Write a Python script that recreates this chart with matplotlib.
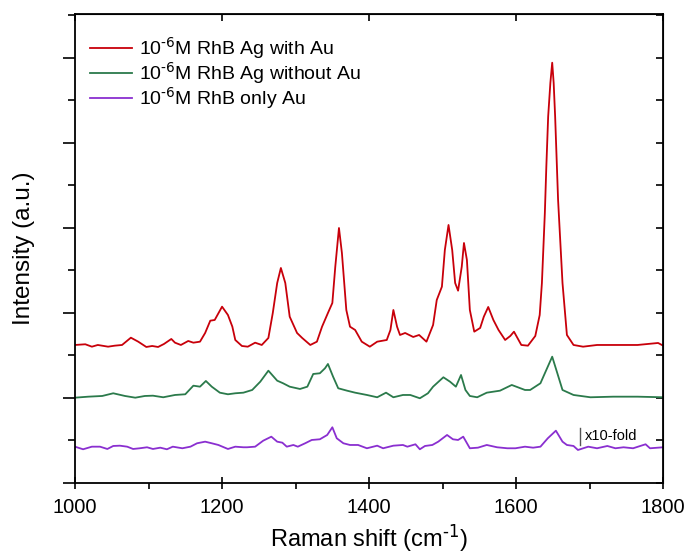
import matplotlib
matplotlib.use('Agg')
import matplotlib.pyplot as plt
from matplotlib.ticker import MultipleLocator

plt.rcParams['font.family'] = ['Liberation Sans', 'DejaVu Sans']
plt.rcParams['mathtext.default'] = 'regular'
plt.rcParams['axes.unicode_minus'] = False

# Raman shift (cm-1) / intensity (a.u., offset stacked)
red_x = [1000, 1014, 1023, 1031, 1045, 1054, 1064, 1076, 1086, 1097, 1105, 1113, 1121, 1131,
         1136, 1144, 1154, 1161, 1170, 1177, 1184, 1190, 1200, 1208, 1214, 1218, 1227,
         1235, 1245, 1254, 1263, 1269, 1275, 1280, 1286, 1292, 1302, 1309, 1320, 1329, 1336,
         1344, 1350, 1354, 1359, 1363, 1369, 1374, 1381, 1390, 1401, 1411, 1424, 1429, 1433,
         1438, 1442, 1449, 1460, 1468, 1478, 1487, 1492, 1499, 1503, 1508, 1513, 1517, 1521,
         1526, 1529, 1533, 1537, 1543, 1551, 1556, 1562, 1569, 1576, 1585, 1592, 1597, 1607,
         1616, 1626, 1632, 1635, 1639, 1641, 1643.5, 1646.5, 1649, 1651, 1653, 1657, 1663,
         1669, 1678, 1691, 1710, 1737, 1765, 1793, 1800]
red_y = [138, 138.7, 136.3, 138, 136.3, 137.3, 138, 145.3, 141.3, 136, 137, 136, 139, 144,
         140.3, 138, 142, 140.3, 141.3, 150, 162.3, 163, 176.3, 168, 156.3, 143, 137,
         136.3, 140.3, 138, 145, 170, 200, 215, 200, 166.3, 150, 145, 138, 141.3, 156.3,
         170, 180, 216.3, 255, 230, 173, 156.3, 153, 141.3, 136.3, 141.3, 143, 153, 173,
         156.3, 148, 150, 146, 148, 141.3, 158, 183, 196.3, 233, 258, 233, 200, 192.3,
         216.3, 240, 223, 173, 151.3, 155, 166.3, 176, 163, 153, 143, 147, 151.3, 138,
         137.3, 147, 168, 200, 270, 316, 366.3, 400, 420.3, 400, 366.3, 283, 200,
         148, 138, 136.3, 138, 138, 138, 140, 137.3]

green_x = [1000, 1018, 1037, 1052, 1068, 1082, 1095, 1106, 1120, 1136, 1150, 1161, 1170, 1178,
           1186, 1197, 1208, 1218, 1229, 1241, 1252, 1263, 1275, 1283, 1292, 1306, 1316, 1324,
           1333, 1340, 1344, 1351, 1358, 1370, 1381, 1397, 1411, 1423, 1433, 1446, 1456, 1469,
           1480, 1487, 1501, 1510, 1518, 1525, 1531, 1537, 1547, 1560, 1578, 1594, 1612, 1619,
           1633, 1639, 1649, 1656, 1663, 1678, 1701, 1732, 1765, 1800]
green_y = [85.3, 86.3, 87, 89.7, 87, 85.3, 87, 87.3, 85.7, 88, 88.7, 97.3, 96.3, 102,
           96.3, 90.3, 88.7, 89.7, 90.3, 93, 101.3, 112.3, 102.3, 99.7, 96.3, 94, 96.3, 109,
           109.7, 114.7, 119, 106.3, 94.7, 92.3, 90.3, 88, 85.7, 90.3, 85.7, 88, 88, 84.7,
           89.7, 96.3, 105.7, 101.3, 96.3, 108, 93, 87, 85.7, 90.3, 92.3, 98, 93, 93,
           99.7, 109.7, 126.3, 109.7, 93, 88, 85.7, 86.3, 86.3, 85.7]

purple_x = [1000, 1011, 1023, 1034, 1044, 1052, 1061, 1071, 1079, 1088, 1098, 1106, 1116, 1125,
            1133, 1146, 1157, 1166, 1177, 1186, 1195, 1208, 1218, 1229, 1234, 1245, 1256, 1267,
            1275, 1282, 1288, 1297, 1303, 1313, 1322, 1333, 1343, 1350, 1356, 1365, 1374, 1385,
            1397, 1411, 1419, 1433, 1446, 1452, 1463, 1469, 1476, 1486, 1494, 1506, 1514, 1521,
            1528, 1537, 1548, 1560, 1574, 1588, 1599, 1612, 1623, 1633, 1643, 1654, 1663, 1669,
            1678, 1684, 1698, 1710, 1724, 1735, 1746, 1759, 1776, 1782, 1800]
purple_y = [36.3, 33.7, 36.3, 36.3, 34, 37, 37.3, 36.3, 34, 34.7, 35.7, 34, 35.3, 33.7,
            36.3, 34.7, 36.3, 39.7, 41.3, 39.7, 38, 34, 36.3, 35.7, 35.7, 36.3, 42.3, 46.3,
            41.3, 40.3, 36.3, 38, 36.3, 39.7, 43, 43.7, 48, 55.7, 44.7, 39.7, 38, 38,
            34.7, 37.3, 34.7, 37.3, 38, 36.3, 38.7, 33.7, 37, 38, 41.3, 48, 43.7, 43,
            46.3, 34.7, 35.3, 38, 35.7, 34.7, 34.7, 36.3, 35.3, 36.3, 44.7, 52.3, 41.3, 38,
            37, 33, 36.3, 34.7, 37, 34.7, 35.7, 34.7, 38.7, 34.7, 35.7]

labels = [r'10$^{\text{-6}}$M RhB Ag with Au',
          r'10$^{\text{-6}}$M RhB Ag without Au',
          r'10$^{\text{-6}}$M RhB only Au']

fig = plt.figure(figsize=(6.88, 5.59), dpi=100)
ax = fig.add_axes([0.109, 0.136, 0.855, 0.839])

ax.plot(red_x, red_y, color='#c8000a', lw=1.3, label=labels[0])
ax.plot(green_x, green_y, color='#2b7a4b', lw=1.3, label=labels[1])
ax.plot(purple_x, purple_y, color='#8a2fd0', lw=1.3, label=labels[2])

# x10-fold marker
ax.plot([1687, 1687], [38, 55], color='#555555', lw=1)
ax.text(1693, 46.5, 'x10-fold', fontsize=10.5, va='center', ha='left')

ax.set_xlim(1000, 1800)
ax.set_ylim(0, 469)
ax.xaxis.set_major_locator(MultipleLocator(200))
ax.xaxis.set_minor_locator(MultipleLocator(100))
ax.yaxis.set_major_locator(MultipleLocator(85))
ax.yaxis.set_minor_locator(MultipleLocator(42.5))

for s in ax.spines.values():
    s.set_linewidth(1.3)

ax.tick_params(axis='x', which='major', direction='inout', length=9, width=1.2,
               labelsize=14.5, pad=6, top=False)
ax.tick_params(axis='x', which='minor', direction='out', length=4, width=1.2, top=False)
ax.tick_params(axis='y', which='major', direction='out', length=9, width=1.2,
               labelleft=False)
ax.tick_params(axis='y', which='minor', direction='out', length=5, width=1.2)

# inward ticks on top and right, like the original plot
sec_y = ax.secondary_yaxis('right')
sec_y.yaxis.set_major_locator(MultipleLocator(42.5))
sec_y.tick_params(direction='in', length=5, width=1.2, labelright=False)
sec_x = ax.secondary_xaxis('top')
sec_x.xaxis.set_major_locator(MultipleLocator(200))
sec_x.tick_params(direction='in', length=5, width=1.2, labeltop=False)

ax.set_xlabel(r'Raman shift (cm$^{\text{-1}}$)', fontsize=17, labelpad=4)
ax.set_ylabel('Intensity (a.u.)', fontsize=17.5, labelpad=20)

leg = ax.legend(loc='upper left', bbox_to_anchor=(0.0, 0.985), fontsize=14, frameon=True,
                handlelength=2.2, borderaxespad=0.3, borderpad=0.45, labelspacing=0.0,
                handletextpad=0.35)
leg.get_frame().set_edgecolor('none')

fig.savefig('out.png', dpi=100)
